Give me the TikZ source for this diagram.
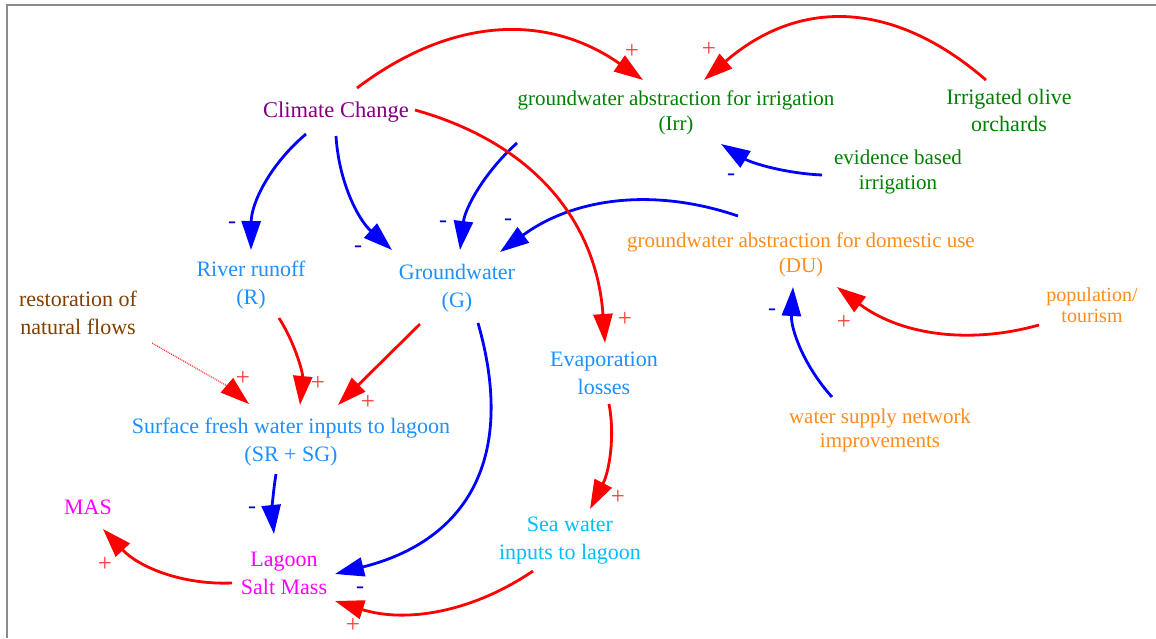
\documentclass[tikz,border=0pt]{standalone}
\usepackage{fontspec}
\setmainfont{Liberation Serif}
\usetikzlibrary{arrows.meta,calc}
\definecolor{cpurple}{RGB}{128,0,128}
\definecolor{cgreen}{RGB}{0,128,0}
\definecolor{corange}{RGB}{255,140,26}
\definecolor{cblue}{RGB}{30,144,255}
\definecolor{cbrown}{RGB}{128,64,0}
\definecolor{cmag}{RGB}{255,0,255}
\definecolor{csky}{RGB}{0,191,255}
\definecolor{lred}{RGB}{255,0,0}
\definecolor{lblue}{RGB}{0,0,255}
\definecolor{pluscol}{RGB}{255,60,60}
\definecolor{minuscol}{RGB}{0,0,210}
\definecolor{framecol}{RGB}{140,140,140}
\tikzset{
  var/.style={align=center, inner sep=0pt, font=\rmfamily\fontsize{22}{28}\selectfont},
  varsm/.style={align=center, inner sep=0pt, font=\rmfamily\fontsize{21}{25}\selectfont},
  bigtip/.style={-{Triangle[length=29pt,width=19pt]}},
  link/.style={line width=2.8pt, bigtip},
  poslink/.style={link, draw=lred},
  neglink/.style={link, draw=lblue},
  plus/.style={text=pluscol, inner sep=0pt, font=\rmfamily\fontsize{25}{25}\selectfont},
  minus/.style={text=minuscol, inner sep=0pt, font=\rmfamily\fontsize{24}{24}\selectfont},
}
\begin{document}
\begin{tikzpicture}[x=1pt,y=-1pt]
\useasboundingbox (0,0) rectangle (1156,638);
\fill[white] (0,0) rectangle (1156,638);
\draw[framecol, line width=2pt] (7,638) -- (7,5) -- (1156,5);

% variables
\node[var, text=cpurple, font=\rmfamily\fontsize{22.5}{28}\selectfont] (cc) at (336,112) {Climate Change};
\node[varsm, text=cgreen] (irr) at (676,113) {groundwater abstraction for irrigation\\(Irr)};
\node[var, text=cgreen, font=\rmfamily\fontsize{22}{27}\selectfont] (olive) at (1009,110) {Irrigated olive\\orchards};
\node[varsm, text=cgreen] (evid) at (898,172) {evidence based\\irrigation};
\node[varsm, text=corange] (du) at (801,255) {groundwater abstraction for domestic use\\(DU)};
\node[var, text=corange, font=\rmfamily\fontsize{20}{21}\selectfont] (pop) at (1092,305) {population/\\tourism};
\node[varsm, text=corange, font=\rmfamily\fontsize{21}{24}\selectfont] (wsn) at (880,430) {water supply network\\improvements};
\node[var, text=cblue] (rr) at (251,285) {River runoff\\(R)};
\node[var, text=cblue] (gw) at (457,288) {Groundwater\\(G)};
\node[var, text=cbrown] (rest) at (78,313) {restoration of\\natural flows};
\node[var, text=cblue] (evap) at (604,373) {Evaporation\\losses};
\node[var, text=cblue] (sf) at (291,442) {Surface fresh water inputs to lagoon\\(SR + SG)};
\node[var, text=cmag] (mas) at (88,507) {MAS};
\node[var, text=cmag] (lag) at (284,573) {Lagoon\\Salt Mass};
\node[var, text=csky] (sea) at (570,541) {Sea water\\inputs to lagoon};

% links
\draw[poslink] ($(cc)+(21,-24)$) .. controls (452.3,16) and (547.7,13.3) .. ($(irr)+(-33,-33)$);
\draw[poslink] ($(olive)+(-23,-30)$) .. controls (892,-1.3) and (798,-1.3) .. ($(irr)+(28,-33)$);
\draw[neglink] ($(evid)+(-76,3)$) .. controls (785,173.3) and (751.3,163) .. ($(irr)+(45,31)$);
\draw[neglink] ($(cc)+(-30,22)$) .. controls (269.7,164.7) and (251.3,203.3) .. ($(rr)+(0,-35)$);
\draw[neglink] ($(cc)+(0,24)$) .. controls (338.7,180.7) and (357.3,218.7) .. ($(gw)+(-65,-38)$);
\draw[neglink] ($(irr)+(-159,30)$) .. controls (484,172.7) and (465,208.3) .. ($(gw)+(3,-38)$);
\draw[neglink] ($(du)+(-63,-39)$) .. controls (652,186.7) and (572.7,198.7) .. ($(gw)+(43,-36)$);
\draw[poslink] ($(cc)+(79,-2)$) .. controls (533,143) and (596.3,220.7) .. ($(evap)+(1,-30)$);
\draw[neglink] ($(wsn)+(-48,-33)$) .. controls (803.7,365.7) and (790.7,329) .. ($(du)+(-8,32)$);
\draw[poslink] ($(pop)+(-53,20)$) .. controls (965,345.7) and (897.7,333) .. ($(du)+(36,32)$);
\draw[poslink] ($(rr)+(28,33)$) .. controls (296,345) and (303,374) .. ($(sf)+(9,-37)$);
\draw[poslink] ($(gw)+(-37,36)$) -- ($(sf)+(47,-37)$);
\draw[lred, line width=1pt, densely dotted] ($(rest)+(74,30)$) -- ($(sf)+(-62,-55)$) coordinate (rtip0);
\draw[lred, line width=1pt, bigtip] (rtip0) -- ($(sf)+(-42,-38)$);
\draw[neglink] ($(sf)+(-15,32)$) .. controls (272.7,494) and (272,514) .. ($(lag)+(-10,-39)$);
\draw[neglink] ($(gw)+(21,35)$) .. controls (516.3,456.7) and (468.7,540.3) .. ($(lag)+(51,1)$);
\draw[poslink] ($(evap)+(5,31)$) .. controls (615.3,437) and (609,472) .. ($(sea)+(20,-32)$);
\draw[poslink] ($(sea)+(-37,30)$) .. controls (471,613) and (405,623) .. ($(lag)+(51,28)$);
\draw[poslink] ($(lag)+(-52,10)$) .. controls (181.7,585) and (138.7,567) .. ($(mas)+(15,22)$);

% polarity signs
\node[plus] (s1) at (632,51) {+};
\node[plus] (s2) at (709,49) {+};
\node[minus] (s3) at (731,177) {-};
\node[minus] (s4) at (232,225) {-};
\node[minus] (s5) at (358,249) {-};
\node[minus] (s6) at (443,224) {-};
\node[minus] (s7) at (508,222) {-};
\node[plus] (s8) at (625,319) {+};
\node[minus] (s9) at (772,312) {-};
\node[plus] (s10) at (844,322) {+};
\node[plus] (s11) at (318,383) {+};
\node[plus] (s12) at (368,402) {+};
\node[plus] (s13) at (243,378) {+};
\node[minus] (s14) at (252,510) {-};
\node[minus] (s15) at (360,590) {-};
\node[plus] (s16) at (618,497) {+};
\node[plus] (s17) at (353,625) {+};
\node[plus] (s18) at (105,564) {+};
\end{tikzpicture}
\end{document}
